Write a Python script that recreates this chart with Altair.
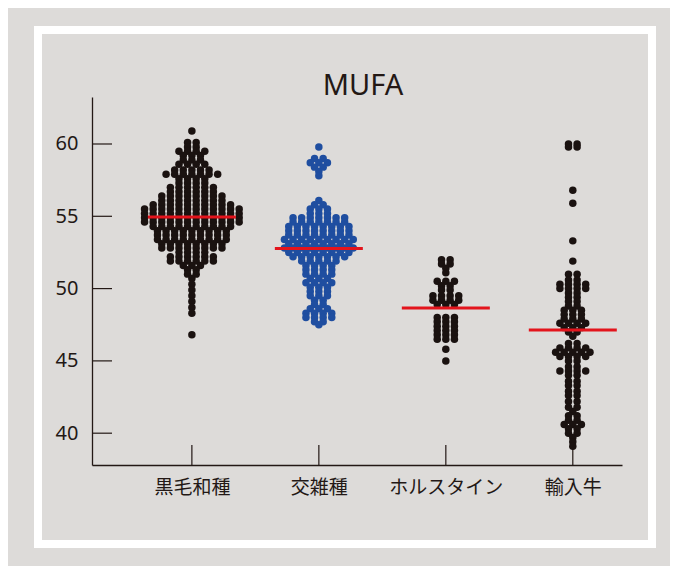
import altair as alt
import pandas as pd

# ---------------- data ----------------
title_text = ["MUFA"]
categories = ["黒毛和種", "交雑種", "ホルスタイン", "輸入牛"]
groups = ["black", "blue", "black", "black"]

kuroge_vals = [60.9, 60.1, 59.8, 59.5, 59.2, 58.9, 58.6, 58.2, 57.9, 57.6, 57.3, 57.0,
               56.7, 56.4, 56.1, 55.8, 55.5, 55.2, 54.9, 54.6, 54.3, 54.0, 53.7, 53.4,
               53.1, 52.8, 52.5, 52.2, 51.9, 51.6, 51.3, 51.0, 50.7, 50.3, 49.9, 49.5,
               49.1, 48.7, 48.3, 46.8]
kuroge_counts = [1, 2, 2, 4, 3, 3, 4, 5, 7, 4, 4, 6,
                 6, 8, 8, 10, 12, 12, 12, 12, 10, 9, 9, 9,
                 8, 8, 4, 6, 6, 3, 2, 2, 1, 1, 1, 1,
                 1, 1, 1, 1]

kosatsu_vals = [59.8, 59.0, 58.7, 58.4, 58.1, 57.8, 56.1, 55.8, 55.5, 55.2, 54.9, 54.6,
                54.3, 54.0, 53.7, 53.4, 53.1, 52.8, 52.5, 52.2, 51.9, 51.6, 51.3, 51.0,
                50.7, 50.4, 50.1, 49.8, 49.5, 49.2, 48.9, 48.6, 48.3, 48.0, 47.7, 47.5]
kosatsu_counts = [1, 2, 3, 2, 1, 1, 1, 2, 3, 3, 7, 7,
                  8, 8, 8, 9, 8, 9, 8, 7, 5, 4, 4, 4,
                  3, 4, 3, 3, 3, 2, 2, 3, 4, 4, 2, 1]

holstein_vals = [52.0, 51.7, 51.4, 51.1, 50.5, 50.2, 49.9, 49.5, 49.2, 48.9,
                 48.0, 47.7, 47.4, 47.1, 46.8, 46.5, 45.8, 45.0]
holstein_counts = [2, 2, 1, 1, 3, 2, 2, 4, 4, 3,
                   3, 3, 3, 3, 3, 3, 1, 1]

yunyu_vals = [60.0, 59.8, 56.8, 55.9, 53.3, 51.9, 51.0, 50.6, 50.3, 50.0, 49.7, 49.4,
              49.1, 48.8, 48.5, 48.2, 47.9, 47.6, 47.3, 47.0, 46.7, 46.2, 45.9, 45.6,
              45.3, 45.0, 44.6, 44.3, 44.0, 43.6, 43.3, 42.9, 42.6, 42.2, 41.8, 41.5,
              41.2, 40.9, 40.6, 40.3, 40.0, 39.7, 39.4, 39.1]
yunyu_counts = [2, 2, 1, 1, 1, 1, 2, 2, 4, 4, 2, 2,
                2, 2, 3, 3, 3, 4, 3, 2, 1, 2, 4, 5,
                4, 2, 2, 4, 2, 2, 2, 2, 2, 2, 2, 1,
                2, 2, 3, 2, 2, 1, 1, 1]

means = [54.95, 52.78, 48.65, 47.13]
y_ticks = [40, 45, 50, 55, 60]

# ---------------- build the dot-plot table ----------------
DOT_STEP = 8.6  # horizontal spacing between dots in one row (px)
rows = []
for cat, grp, vals, counts in zip(
        categories, groups,
        [kuroge_vals, kosatsu_vals, holstein_vals, yunyu_vals],
        [kuroge_counts, kosatsu_counts, holstein_counts, yunyu_counts]):
    for v, n in zip(vals, counts):
        for i in range(n):
            rows.append({"cat": cat, "grp": grp, "v": v,
                         "off": (i - (n - 1) / 2) * DOT_STEP})
dots = pd.DataFrame(rows)
mean_df = pd.DataFrame({"cat": categories, "v": means})
ytick_df = pd.DataFrame({"v": y_ticks})
xtick_df = pd.DataFrame({"cat": categories})

INK = "#231815"
RED = "#e3141c"
BG = "#dddbd9"
W, H = 530, 368

x_scale = alt.Scale(type="point", domain=categories, range=[0, W],
                    padding=0.587, align=0.67)
y_scale = alt.Scale(domain=[37.8, 63.25], nice=False, zero=False)

x_axis = alt.Axis(title=None, ticks=False, grid=False, labelAngle=0,
                  labelFont="Noto Sans CJK JP", labelFontSize=19,
                  labelColor=INK, labelPadding=13,
                  domainColor=INK, domainWidth=1.3)
y_axis = alt.Axis(title=None, ticks=False, grid=False, values=y_ticks,
                  labelFont="Noto Sans", labelFontSize=20, labelColor=INK,
                  labelPadding=14, domainColor=INK, domainWidth=1.3)

frame = alt.Chart(pd.DataFrame({"k": [0]})).mark_rect(
    fillOpacity=0, stroke="white", strokeWidth=8
).encode(x=alt.value(-54), x2=alt.value(560), y=alt.value(-67), y2=alt.value(447))

title = alt.Chart(pd.DataFrame({"t": title_text})).mark_text(
    font="Noto Sans", fontSize=29, color=INK, align="center", baseline="alphabetic"
).encode(text="t:N", x=alt.value(271), y=alt.value(-2))

xticks = alt.Chart(xtick_df).mark_rule(color=INK, strokeWidth=1.2).encode(
    x=alt.X("cat:N", scale=x_scale, axis=x_axis, sort=categories),
    y=alt.value(H), y2=alt.value(H - 20))

yticks = alt.Chart(ytick_df).mark_rule(color=INK, strokeWidth=1.2).encode(
    y=alt.Y("v:Q", scale=y_scale, axis=y_axis),
    x=alt.value(0), x2=alt.value(20))

points = alt.Chart(dots).mark_circle(size=56, opacity=1).encode(
    x=alt.X("cat:N", scale=x_scale, axis=x_axis, sort=categories),
    xOffset=alt.XOffset("off:Q", scale=alt.Scale(domain=[-60, 60], range=[-60, 60])),
    y=alt.Y("v:Q", scale=y_scale, axis=y_axis),
    color=alt.Color("grp:N", legend=None,
                    scale=alt.Scale(domain=["black", "blue"],
                                    range=["#1a1210", "#1f4ea0"])))

mean_ticks = alt.Chart(mean_df).mark_tick(color=RED, thickness=3, size=88, opacity=1).encode(
    x=alt.X("cat:N", scale=x_scale, axis=x_axis, sort=categories),
    y=alt.Y("v:Q", scale=y_scale, axis=y_axis))

chart = alt.layer(frame, title, xticks, yticks, points, mean_ticks).properties(
    width=W, height=H,
    autosize=alt.AutoSizeParams(type="none"),
    padding={"left": 84, "top": 89, "right": 48, "bottom": 101},
    background=BG,
).configure_view(strokeWidth=0)

chart.save("out.html", embed_options={"renderer": "svg", "actions": False})
